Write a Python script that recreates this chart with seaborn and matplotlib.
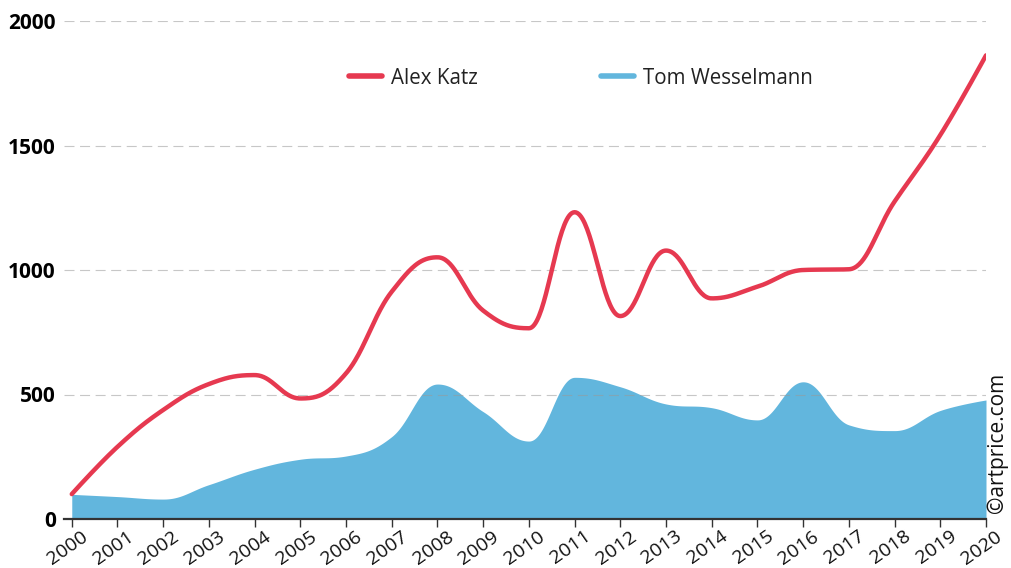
import numpy as np
import pandas as pd
import seaborn as sns
import matplotlib.pyplot as plt
import matplotlib.transforms as mtransforms
from matplotlib.lines import Line2D

years = list(range(2000, 2021))
katz = [100, 290, 438, 542, 578, 484, 585, 913, 1051, 837, 766,
        1232, 815, 1078, 886, 933, 1000, 1003, 1275, 1542, 1862]
wesselmann = [99, 90, 80, 138, 200, 240, 253, 331, 542, 431, 313,
              569, 531, 462, 447, 398, 551, 378, 355, 436, 478]
y_ticks = [0, 500, 1000, 1500, 2000]

red = '#e63950'
blue = '#62b6dd'


def spline(xs, ys, n=40):
    # highcharts-like smoothing, bezier control points per point
    xs = np.asarray(xs, float)
    ys = np.asarray(ys, float)
    m = len(xs)
    lc = np.column_stack([xs, ys]).copy()
    rc = lc.copy()
    s, d = 1.5, 2.5
    for i in range(1, m - 1):
        px, py = xs[i], ys[i]
        lx, ly = xs[i - 1], ys[i - 1]
        nx, ny = xs[i + 1], ys[i + 1]
        lcx, lcy = (s * px + lx) / d, (s * py + ly) / d
        rcx, rcy = (s * px + nx) / d, (s * py + ny) / d
        corr = (rcy - lcy) * (rcx - px) / (rcx - lcx) + py - rcy
        lcy += corr
        rcy += corr
        if lcy > ly and lcy > py:
            lcy = max(ly, py)
            rcy = 2 * py - lcy
        elif lcy < ly and lcy < py:
            lcy = min(ly, py)
            rcy = 2 * py - lcy
        if rcy > ny and rcy > py:
            rcy = max(ny, py)
            lcy = 2 * py - rcy
        elif rcy < ny and rcy < py:
            rcy = min(ny, py)
            lcy = 2 * py - rcy
        lc[i] = lcx, lcy
        rc[i] = rcx, rcy
    t = np.linspace(0, 1, n)[:, None]
    out = []
    for i in range(1, m):
        p0 = np.array([xs[i - 1], ys[i - 1]])
        p3 = np.array([xs[i], ys[i]])
        p1, p2 = rc[i - 1], lc[i]
        seg = ((1 - t) ** 3) * p0 + 3 * ((1 - t) ** 2) * t * p1 + 3 * (1 - t) * t ** 2 * p2 + t ** 3 * p3
        out.append(seg if i == 1 else seg[1:])
    out = np.vstack(out)
    return out[:, 0], out[:, 1]


sns.set_theme(style='white')
plt.rcParams['font.family'] = ['Open Sans', 'DejaVu Sans']

fig = plt.figure(figsize=(10.11, 5.68), dpi=100)
ax = fig.add_axes([64 / 1011, 49 / 568, 922 / 1011, 498 / 568])

kx, ky = spline(years, katz)
wx, wy = spline(years, wesselmann)
df_k = pd.DataFrame({'year': kx, 'value': ky})

ax.fill_between(wx, 0, wy, color=blue, linewidth=0, zorder=1)
sns.lineplot(data=df_k, x='year', y='value', color=red, linewidth=3.2,
             ax=ax, zorder=4, sort=False, estimator=None)

ax.set_xlim(1999.83, 2020)
ax.set_ylim(0, 2000)
ax.set_axisbelow(False)
ax.yaxis.grid(True, color='#999999', alpha=0.55, linewidth=0.8,
              linestyle=(0, (9, 5)), zorder=2.5)
ax.xaxis.grid(False)

for sp in ['top', 'right', 'left']:
    ax.spines[sp].set_visible(False)
ax.spines['bottom'].set_color('#333333')
ax.spines['bottom'].set_linewidth(1.6)
ax.spines['bottom'].set_zorder(5)

ax.set_xticks(years)
ax.set_xticklabels([str(y) for y in years], rotation=35, ha='right',
                   rotation_mode='anchor', fontsize=14, color='#111111')
ax.set_yticks(y_ticks)
ax.set_yticklabels([str(v) for v in y_ticks], fontsize=15, fontweight='bold',
                   color='#000000')
ax.tick_params(axis='x', length=6, width=1, color='#333333', pad=0, bottom=True)
ax.tick_params(axis='y', length=0, pad=6)
ax.set_xlabel('')
ax.set_ylabel('')

offset = mtransforms.ScaledTranslation(9 / 100, 0, fig.dpi_scale_trans)
for lab in ax.get_xticklabels():
    lab.set_transform(lab.get_transform() + offset)

handles = [Line2D([], [], color=red, linewidth=4, solid_capstyle='round'),
           Line2D([], [], color=blue, linewidth=4, solid_capstyle='round')]
fig.legend(handles, ['Alex Katz', 'Tom Wesselmann'], loc='center',
           bbox_to_anchor=(581 / 1011, 1 - 78 / 568), ncol=2, frameon=False,
           fontsize=14.8, handlelength=1.6, handletextpad=0.45,
           columnspacing=6.0, labelcolor='#222222')

fig.text(997 / 1011, 1 - 443 / 568, '©artprice.com', rotation=90,
         ha='center', va='center', fontsize=15, color='#111111')

fig.savefig('out.png', dpi=100)
